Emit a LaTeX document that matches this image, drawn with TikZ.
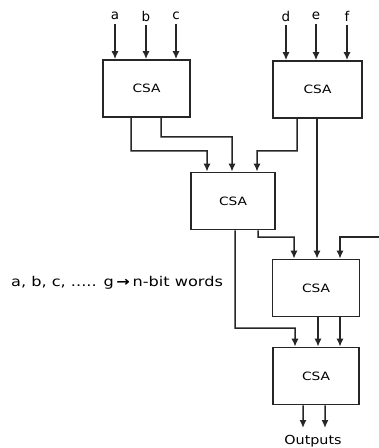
\documentclass[tikz,border=0pt]{standalone}
\usepackage{fontspec}
\setmainfont{DejaVu Sans}
\usetikzlibrary{arrows.meta,calc}
\begin{document}
\begin{tikzpicture}[x=1bp,y=-1bp,
  csa/.style={draw=black!85, line width=1.6bp, minimum width=#1, minimum height=57bp, inner sep=0pt, font=\fontsize{11.5}{13}\selectfont},
  csa/.default=87bp,
  arr/.style={draw=black!85, line width=1.5bp, -{Latex[length=8bp,width=7bp]}},
  lbl/.style={inner sep=0pt, font=\fontsize{13.5}{15}\selectfont}]
\useasboundingbox (0,0) rectangle (378,448);
% boxes
\node[csa=87bp] (b1) at (146.5,88.5) {\scalebox{1.2}[1]{CSA}};
\node[csa=89bp] (b2) at (317.5,89.5) {\scalebox{1.2}[1]{CSA}};
\node[csa=84bp] (b3) at (233,201) {\scalebox{1.2}[1]{CSA}};
\node[csa=87bp] (b4) at (316,288) {\scalebox{1.2}[1]{CSA}};
\node[csa=86bp] (b5) at (316,376) {\scalebox{1.2}[1]{CSA}};
% input labels
\node[lbl] (a) at (115,16) {a};
\node[lbl] (b) at (146,16) {b};
\node[lbl] (c) at (176,16) {c};
\node[lbl] (d) at (286,16) {d};
\node[lbl] (e) at (316,16) {e};
\node[lbl] (f) at (347,16) {f};
\foreach \n in {a,b,c} \draw[arr] (\n.south) ++(0,4) -- (\n |- b1.north);
\foreach \n in {d,e,f} \draw[arr] (\n.south) ++(0,4) -- (\n |- b2.north);
% b1 -> b3
\draw[arr] ([xshift=-15.5bp]b1.south) -- (131,151) -| ([xshift=-26bp]b3.north);
\draw[arr] ([xshift=14.5bp]b1.south) -- (161,137) -| ([xshift=-1bp]b3.north);
% b2 -> b3, b4
\draw[arr] ([xshift=-20.5bp]b2.south) -- (297,151) -| ([xshift=24bp]b3.north);
\draw[arr] ([xshift=-0.5bp]b2.south) -- ([xshift=1bp]b4.north);
% g from the right
\coordinate (gin) at (380,237);
\draw[arr] (gin) -| ([xshift=24bp]b4.north);
% b3 -> b4, b5
\draw[arr] ([xshift=25bp]b3.south) -- (258,237) -| ([xshift=-22bp]b4.north);
\draw[arr] ([xshift=2bp]b3.south) -- (235,328) -| ([xshift=-21bp]b5.north);
% b4 -> b5
\draw[arr] ([xshift=2bp]b4.south) -- ([xshift=2bp]b5.north);
\draw[arr] ([xshift=24bp]b4.south) -- ([xshift=24bp]b5.north);
% outputs
\node[lbl, font=\fontsize{12.5}{14}\selectfont] (out) at (313,441) {\scalebox{1.15}[1]{Outputs}};
\coordinate (o1) at (303,428);
\coordinate (o2) at (325,428);
\draw[arr] ([xshift=-13bp]b5.south) -- (o1);
\draw[arr] ([xshift=9bp]b5.south) -- (o2);
% legend
\node[lbl, anchor=west] (legend) at (11,283) {\scalebox{1.2}[1]{a, b, c, ..... g\,\textbf{→}\,n-bit words}};
\end{tikzpicture}
\end{document}
